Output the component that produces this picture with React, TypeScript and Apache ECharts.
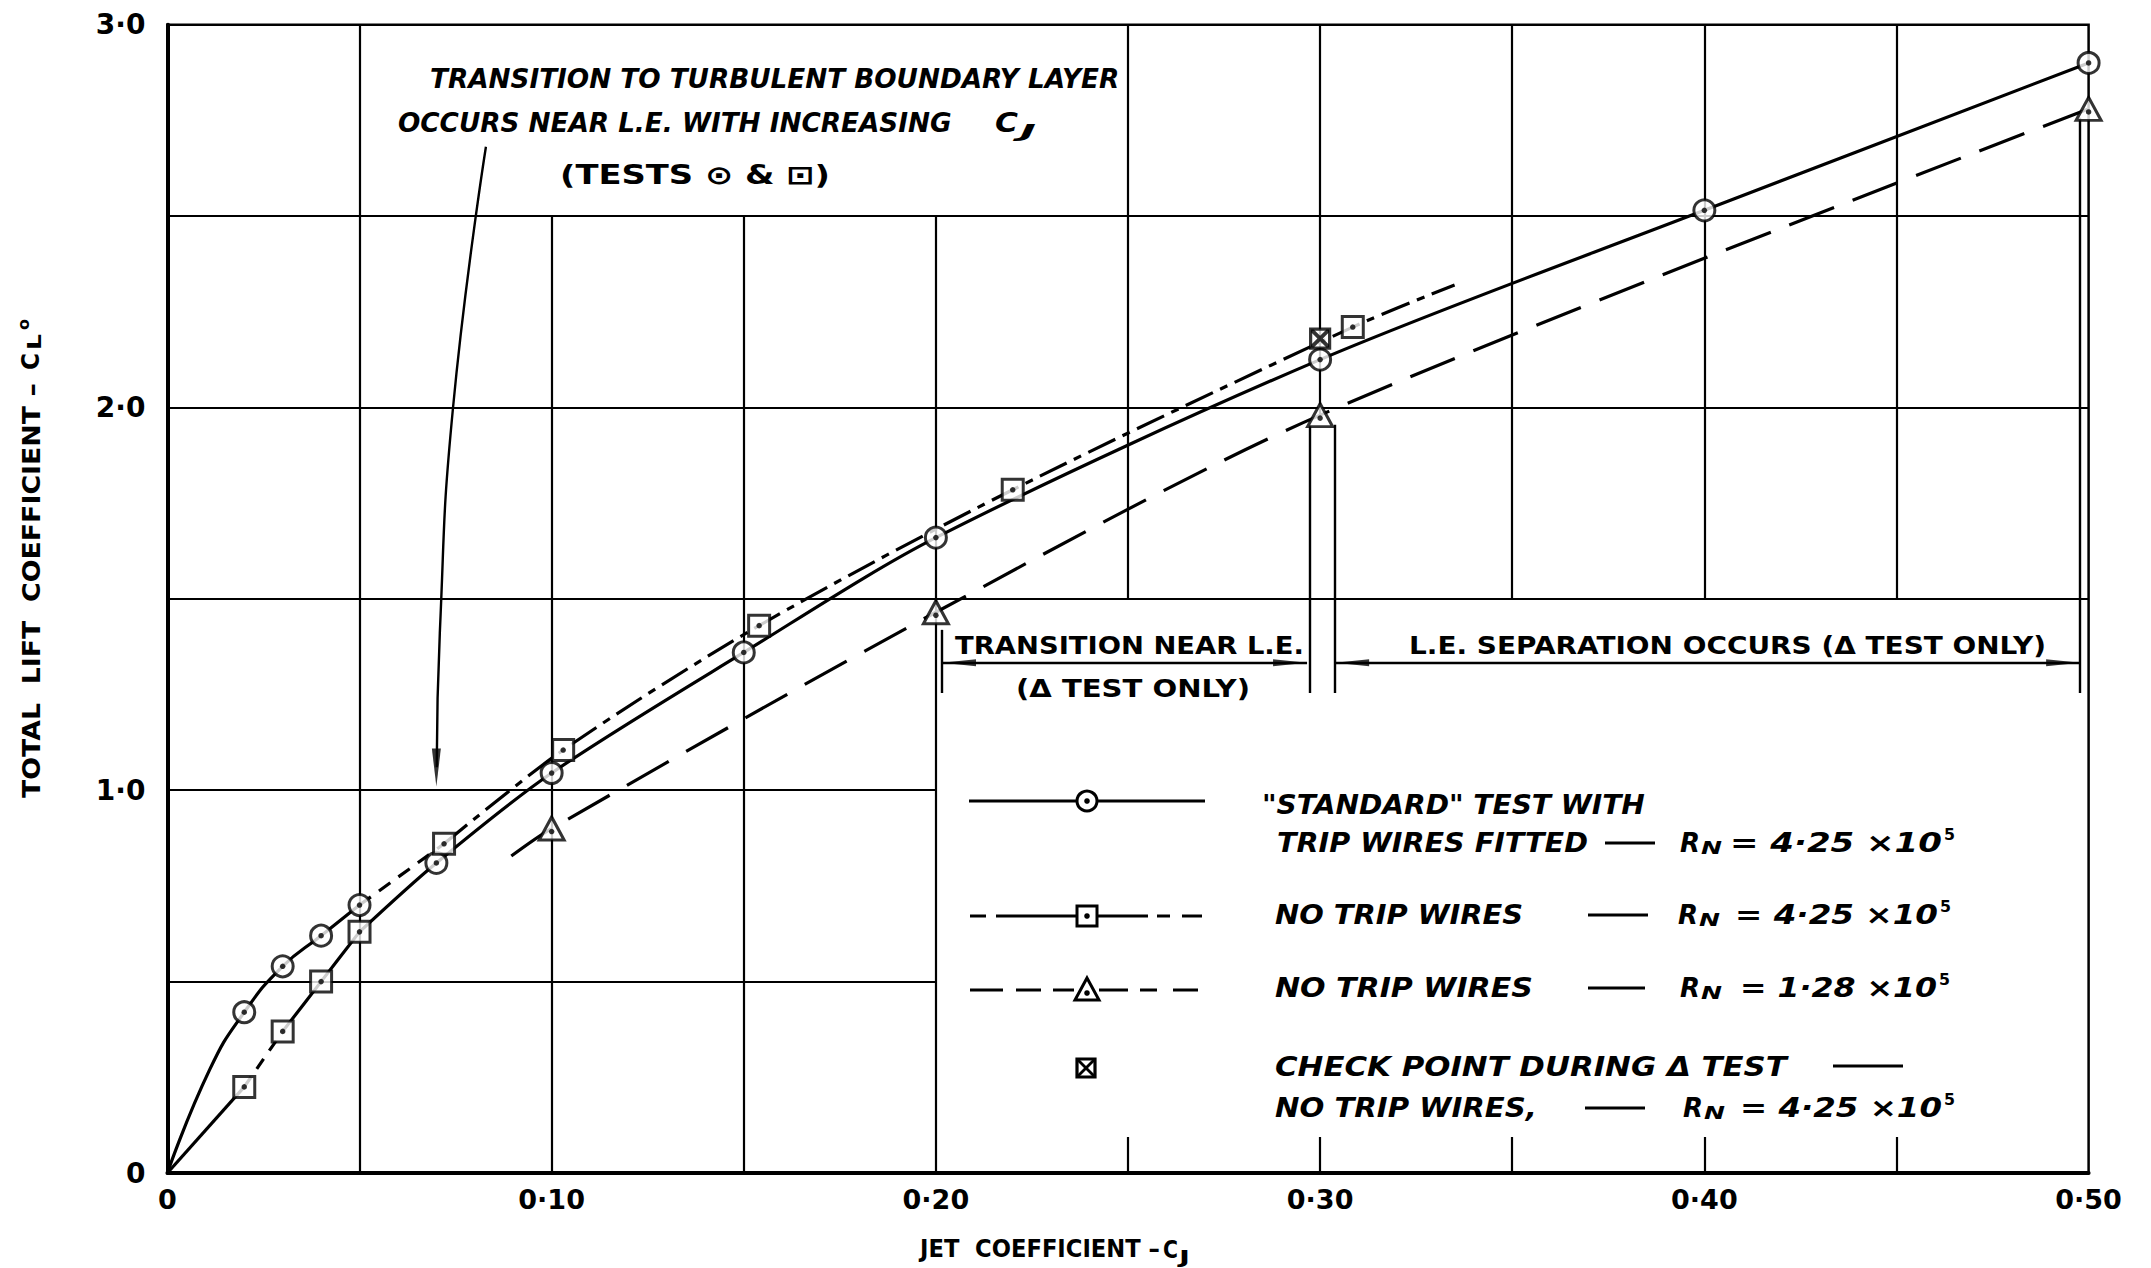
import React, { useEffect, useRef } from 'react';
import * as echarts from 'echarts';

// ---- Measured data -------------------------------------------------------
// "Standard" test with trip wires fitted, RN = 4.25e5 (circles)
const CJ_STD = [0.02, 0.03, 0.04, 0.05, 0.07, 0.10, 0.15, 0.20, 0.30, 0.40, 0.50];
const CL_STD = [0.42, 0.54, 0.62, 0.70, 0.81, 1.045, 1.36, 1.66, 2.125, 2.515, 2.90];

// No trip wires, RN = 4.25e5 (squares)
const CJ_NTW = [0.02, 0.03, 0.04, 0.05, 0.072, 0.103, 0.154, 0.22, 0.3085];
const CL_NTW = [0.225, 0.37, 0.50, 0.63, 0.86, 1.105, 1.43, 1.785, 2.21];

// No trip wires, RN = 1.28e5 (triangles)
const CJ_LOW = [0.10, 0.20, 0.30, 0.50];
const CL_LOW = [0.90, 1.465, 1.98, 2.78];

// Check point during the triangle test
const CHECK_POINT = [0.30, 2.18];

// Points on the faired curves beyond or between the measured points
const ORIGIN = [0, 0];
const STD_CURVE_NEAR_ORIGIN = [0.011, 0.27];
const NTW_CURVE_END = [0.335, 2.32];
const LOW_CURVE_START = [0.0895, 0.828];

// Axis tick labels
const X_TICK_LABELS = ['0', '0·10', '0·20', '0·30', '0·40', '0·50'];
const Y_TICK_LABELS = ['0', '1·0', '2·0', '3·0'];

// Grid rulings: vertical [cj, clFrom, clTo], horizontal [cl, cjFrom, cjTo]
const GRID_V: number[][] = [
  [0.05, 0, 3], [0.10, 0, 2.5], [0.15, 0, 2.5], [0.20, 0, 2.5],
  [0.25, 1.5, 3], [0.30, 1.98, 3], [0.35, 1.5, 3], [0.40, 1.5, 3], [0.45, 1.5, 3],
  [0.25, 0, 0.094], [0.30, 0, 0.094], [0.35, 0, 0.094], [0.40, 0, 0.094], [0.45, 0, 0.094],
];
const GRID_H: number[][] = [
  [2.5, 0, 0.5], [2.0, 0, 0.5], [1.5, 0, 0.5], [1.0, 0, 0.2], [0.5, 0, 0.2],
];

// Range brackets below the curves: arrows [cjFrom, cjTo, cl], ticks [cj, clFrom, clTo]
const BRACKET_ARROWS: number[][] = [[0.2016, 0.2966, 1.333], [0.3039, 0.4978, 1.333]];
const BRACKET_TICKS: number[][] = [
  [0.2016, 1.254, 1.419], [0.2974, 1.254, 1.955], [0.3039, 1.254, 1.955], [0.4978, 1.254, 2.757],
];

// Leader from the transition note down to the curves
const LEADER_CJ = [0.0829, 0.0743, 0.0709, 0.0701];
const LEADER_CL = [2.681, 1.996, 1.411, 1.06];
const LEADER_TIP = [0.0700, 1.0095];

// ---- Helpers -------------------------------------------------------------
const FAMILY = 'DejaVu Sans';
let measureCtx: CanvasRenderingContext2D | null = null;
function measure(text: string, size: number, italic: boolean, bold: boolean): number {
  if (!measureCtx) measureCtx = document.createElement('canvas').getContext('2d');
  measureCtx!.font = `${italic ? 'italic ' : ''}${bold ? 'bold ' : ''}${size}px "${FAMILY}"`;
  return measureCtx!.measureText(text).width;
}

function textStyle(text: string, size: number, italic: boolean, bold: boolean) {
  return {
    text,
    fill: '#000',
    fontSize: size,
    fontFamily: FAMILY,
    fontStyle: italic ? 'italic' : 'normal',
    fontWeight: bold ? 'bold' : 'normal',
    textAlign: 'left',
    textVerticalAlign: 'middle',
    align: 'left',
    verticalAlign: 'middle',
  };
}

// Horizontal lettering stretched to span x0..x1
function label(text: string, x0: number, x1: number | null, y: number, size: number, italic = false, bold = true) {
  const w = measure(text, size, italic, bold);
  return {
    type: 'text',
    x: x0,
    y,
    scaleX: x1 == null ? 1 : (x1 - x0) / w,
    silent: true,
    z: 100,
    style: textStyle(text, size, italic, bold),
  };
}

// Lettering reading bottom-to-top, spanning yStart..yEnd
function vlabel(text: string, cx: number, yStart: number, yEnd: number | null, size: number) {
  const w = measure(text, size, false, true);
  return {
    type: 'text',
    x: cx,
    y: yStart,
    rotation: Math.PI / 2,
    scaleX: yEnd == null ? 1 : (yStart - yEnd) / w,
    silent: true,
    z: 100,
    style: textStyle(text, size, false, true),
  };
}

function hline(x1: number, x2: number, y: number, w = 3) {
  return { type: 'line', silent: true, z: 90, shape: { x1, y1: y, x2, y2: y }, style: { stroke: '#000', lineWidth: w } };
}

function circleMark(cx: number, cy: number) {
  return [
    { type: 'circle', silent: true, z: 95, shape: { cx, cy, r: 10 }, style: { fill: '#fff', stroke: '#000', lineWidth: 3 } },
    { type: 'circle', silent: true, z: 96, shape: { cx, cy, r: 2.8 }, style: { fill: '#000' } },
  ];
}
function squareMark(cx: number, cy: number) {
  return [
    { type: 'rect', silent: true, z: 95, shape: { x: cx - 10, y: cy - 10, width: 20, height: 20 }, style: { fill: '#fff', stroke: '#000', lineWidth: 3 } },
    { type: 'circle', silent: true, z: 96, shape: { cx, cy, r: 2.8 }, style: { fill: '#000' } },
  ];
}
function triangleMark(cx: number, cy: number) {
  return [
    { type: 'polygon', silent: true, z: 95, shape: { points: [[cx, cy - 12], [cx + 12, cy + 10], [cx - 12, cy + 10]] }, style: { fill: '#fff', stroke: '#000', lineWidth: 3 } },
    { type: 'circle', silent: true, z: 96, shape: { cx, cy: cy + 3, r: 2.8 }, style: { fill: '#000' } },
  ];
}
function checkMark(cx: number, cy: number) {
  return [
    { type: 'rect', silent: true, z: 95, shape: { x: cx - 9, y: cy - 9, width: 18, height: 18 }, style: { fill: '#fff', stroke: '#000', lineWidth: 3.2 } },
    { type: 'line', silent: true, z: 96, shape: { x1: cx - 9, y1: cy - 9, x2: cx + 9, y2: cy + 9 }, style: { stroke: '#000', lineWidth: 2.8 } },
    { type: 'line', silent: true, z: 96, shape: { x1: cx + 9, y1: cy - 9, x2: cx - 9, y2: cy + 9 }, style: { stroke: '#000', lineWidth: 2.8 } },
  ];
}

// Reynolds number group: R, subscript N, value, superscript 5
function reynolds(xR: number, value: string, xv0: number, xv1: number, y: number) {
  return [
    label('R', xR, xR + 20, y, 26, true),
    label('N', xR + 21, xR + 42, y + 5, 18, true),
    label(value, xv0, xv1, y, 26, true),
    label('5', xv1 + 2, xv1 + 13, y - 9, 16, false),
  ];
}

const pts = (xs: number[], ys: number[]) => xs.map((x, i) => [x, ys[i]]);

function buildOption(): any {
  const std = pts(CJ_STD, CL_STD);
  const ntw = pts(CJ_NTW, CL_NTW);
  const low = pts(CJ_LOW, CL_LOW);

  const gridSegments = [
    ...GRID_V.map(([x, y0, y1]) => ({ coords: [[x, y0], [x, y1]] })),
    ...GRID_H.map(([y, x0, x1]) => ({ coords: [[x0, y], [x1, y]] })),
  ];
  const bracketSegments = [
    ...BRACKET_ARROWS.map(([x0, x1, y]) => ({ coords: [[x0, y], [x1, y]] })),
    ...BRACKET_TICKS.map(([x, y0, y1]) => ({ coords: [[x, y0], [x, y1]] })),
  ];

  const curve = (data: number[][], type: any, smooth = 0.3) => ({
    type: 'line',
    data,
    symbol: 'none',
    showSymbol: false,
    smooth,
    silent: true,
    z: 3,
    lineStyle: { color: '#000', width: 3.2, type },
  });

  const markers = (data: number[][], symbol: string, size: any, dotOffset: number[] = [0, 0]) => [
    {
      type: 'scatter', data, symbol, symbolSize: size, silent: true, z: 5,
      itemStyle: { color: '#fff', borderColor: '#000', borderWidth: 3 },
    },
    {
      type: 'scatter', data, symbol: 'circle', symbolSize: 5.5, symbolOffset: dotOffset, silent: true, z: 6,
      itemStyle: { color: '#000' },
    },
  ];

  const series: any[] = [
    {
      type: 'lines', coordinateSystem: 'cartesian2d', data: gridSegments, polyline: false, silent: true, z: 1,
      lineStyle: { color: '#000', width: 2.2, opacity: 1, curveness: 0 }, effect: { show: false },
    },
    {
      type: 'lines', coordinateSystem: 'cartesian2d', data: bracketSegments, polyline: false, silent: true, z: 2,
      lineStyle: { color: '#000', width: 2.4, opacity: 1, curveness: 0 }, effect: { show: false },
    },
    // Standard test, low jet coefficients
    curve([ORIGIN, STD_CURVE_NEAR_ORIGIN, ...std.slice(0, 4)], 'solid', 0.5),
    // Faired curve through the standard points at higher jet coefficients
    curve([ntw[3], ...std.slice(4)], 'solid', 0.3),
    // No trip wires, low end
    curve([ORIGIN, ntw[0]], 'solid', 0),
    curve([ntw[0], ntw[1]], [12, 10], 0),
    curve(ntw.slice(1, 4), 'solid', 0.3),
    curve([std[3], ntw[4]], [14, 10], 0),
    // No trip wires, higher jet coefficients
    curve([...ntw.slice(4), NTW_CURVE_END], [30, 8, 8, 8], 0.3),
    // Low Reynolds number test
    curve([LOW_CURVE_START, ...low], [48, 20], 0.3),
    // Leader for the transition note
    {
      type: 'line', data: pts(LEADER_CJ, LEADER_CL), symbol: 'none', smooth: 0.5, silent: true, z: 2,
      lineStyle: { color: '#000', width: 2.4 },
    },
    {
      type: 'scatter', data: [LEADER_TIP], symbol: 'path://M0,0 L9,0 L4.5,38 Z', symbolSize: [9, 38],
      symbolOffset: [0, -19], silent: true, z: 4, itemStyle: { color: '#000' },
    },
    {
      type: 'scatter', data: BRACKET_ARROWS.map(([x0, , y]) => [x0, y]), symbol: 'path://M34,0 L0,3.5 L34,7 Z',
      symbolSize: [34, 7], symbolOffset: [17, 0], silent: true, z: 4, itemStyle: { color: '#000' },
    },
    {
      type: 'scatter', data: BRACKET_ARROWS.map(([, x1, y]) => [x1, y]), symbol: 'path://M0,0 L34,3.5 L0,7 Z',
      symbolSize: [34, 7], symbolOffset: [-17, 0], silent: true, z: 4, itemStyle: { color: '#000' },
    },
    ...markers(std, 'circle', 21),
    ...markers(ntw, 'rect', 21),
    ...markers(low, 'triangle', [25, 23], [0, 3]),
    {
      type: 'scatter', data: [CHECK_POINT], symbol: 'rect', symbolSize: 19, silent: true, z: 5,
      itemStyle: { color: '#fff', borderColor: '#000', borderWidth: 3.2 },
    },
    {
      type: 'scatter', data: [CHECK_POINT],
      symbol: 'path://M0,0 L3,0 L20,17 L20,20 L17,20 L0,3 Z M17,0 L20,0 L20,3 L3,20 L0,20 L0,17 Z',
      symbolSize: 18, silent: true, z: 6, itemStyle: { color: '#000' },
    },
  ];

  const graphic: any[] = [
    // Transition note
    label('TRANSITION TO TURBULENT BOUNDARY LAYER', 430, 1120, 79, 26, true),
    label('OCCURS NEAR L.E. WITH INCREASING', 398, 952, 123, 26, true),
    label('C', 995, 1018, 123, 26, true),
    label('J', 1020, 1036, 131, 18, true),
    label('(TESTS ⊙ & ⊡)', 560, 830, 175, 26, false),

    // Range notes
    label('TRANSITION NEAR L.E.', 955, 1304, 645, 25, false),
    label('(Δ TEST ONLY)', 1016, 1250, 688, 25, false),
    label('L.E. SEPARATION OCCURS (Δ TEST ONLY)', 1409, 2046, 645, 25, false),

    // Key
    hline(969, 1205, 801),
    ...circleMark(1087, 801),
    ...[[970, 986], [996, 1148], [1157, 1170], [1182, 1202]].map(([a, b]) => hline(a, b, 916)),
    ...squareMark(1087, 916),
    ...[[970, 1003], [1016, 1041], [1053, 1074], [1099, 1128], [1140, 1157], [1173, 1198]].map(([a, b]) => hline(a, b, 990)),
    ...triangleMark(1087, 990),
    ...checkMark(1086, 1068),

    label('"STANDARD" TEST WITH', 1262, 1645, 805, 26, true),
    label('TRIP WIRES FITTED', 1277, 1588, 843, 26, true),
    hline(1605, 1655, 843, 2.8),
    ...reynolds(1680, '= 4·25 ×10', 1730, 1942, 843),

    label('NO TRIP WIRES', 1275, 1523, 915, 26, true),
    hline(1588, 1648, 915, 2.8),
    ...reynolds(1678, '= 4·25 ×10', 1735, 1938, 915),

    label('NO TRIP WIRES', 1275, 1533, 988, 26, true),
    hline(1588, 1645, 988, 2.8),
    ...reynolds(1680, '= 1·28 ×10', 1740, 1937, 988),

    label('CHECK POINT DURING Δ TEST', 1275, 1787, 1067, 26, true),
    hline(1833, 1903, 1066, 2.8),
    label('NO TRIP WIRES,', 1275, 1537, 1108, 26, true),
    hline(1585, 1645, 1108, 2.8),
    ...reynolds(1683, '= 4·25 ×10', 1740, 1942, 1108),

    // Axis titles
    label('JET  COEFFICIENT –', 920, 1160, 1249, 25, false),
    label('C', 1163, 1178, 1249, 25, false),
    label('J', 1179, 1190, 1257, 17, false),
    vlabel('TOTAL  LIFT  COEFFICIENT –', 31, 798, 383, 25),
    vlabel('C', 31, 370, 353, 25),
    vlabel('L', 34, 350, 334, 20),
    vlabel('o', 24, 330, 319, 16),
  ];

  return {
    animation: false,
    backgroundColor: '#fff',
    grid: {
      left: 167.4, right: 62.4, top: 24.7, bottom: 95,
      show: true, borderColor: '#000', borderWidth: 2.5, backgroundColor: 'transparent',
    },
    xAxis: {
      type: 'value', min: 0, max: 0.5, interval: 0.1,
      axisLine: { show: true, lineStyle: { color: '#000', width: 4 } },
      axisTick: { show: false },
      splitLine: { show: false },
      axisLabel: {
        color: '#000', fontSize: 27, fontWeight: 'bold', fontFamily: FAMILY, margin: 13,
        formatter: (v: number) => X_TICK_LABELS[Math.round(v / 0.1)] ?? '',
      },
    },
    yAxis: {
      type: 'value', min: 0, max: 3, interval: 1,
      axisLine: { show: true, lineStyle: { color: '#000', width: 4 } },
      axisTick: { show: false },
      splitLine: { show: false },
      axisLabel: {
        color: '#000', fontSize: 28, fontWeight: 'bold', fontFamily: FAMILY, margin: 22,
        formatter: (v: number) => Y_TICK_LABELS[Math.round(v)] ?? '',
      },
    },
    series,
    graphic,
  };
}

export default function App() {
  const ref = useRef<HTMLDivElement>(null);
  useEffect(() => {
    const chart = echarts.init(ref.current!, null, { renderer: 'svg' });
    chart.setOption(buildOption());
    return () => chart.dispose();
  }, []);
  return (
    <div
      ref={ref}
      style={{ position: 'fixed', left: 0, top: 0, width: 2151, height: 1268, background: '#fff' }}
    />
  );
}
